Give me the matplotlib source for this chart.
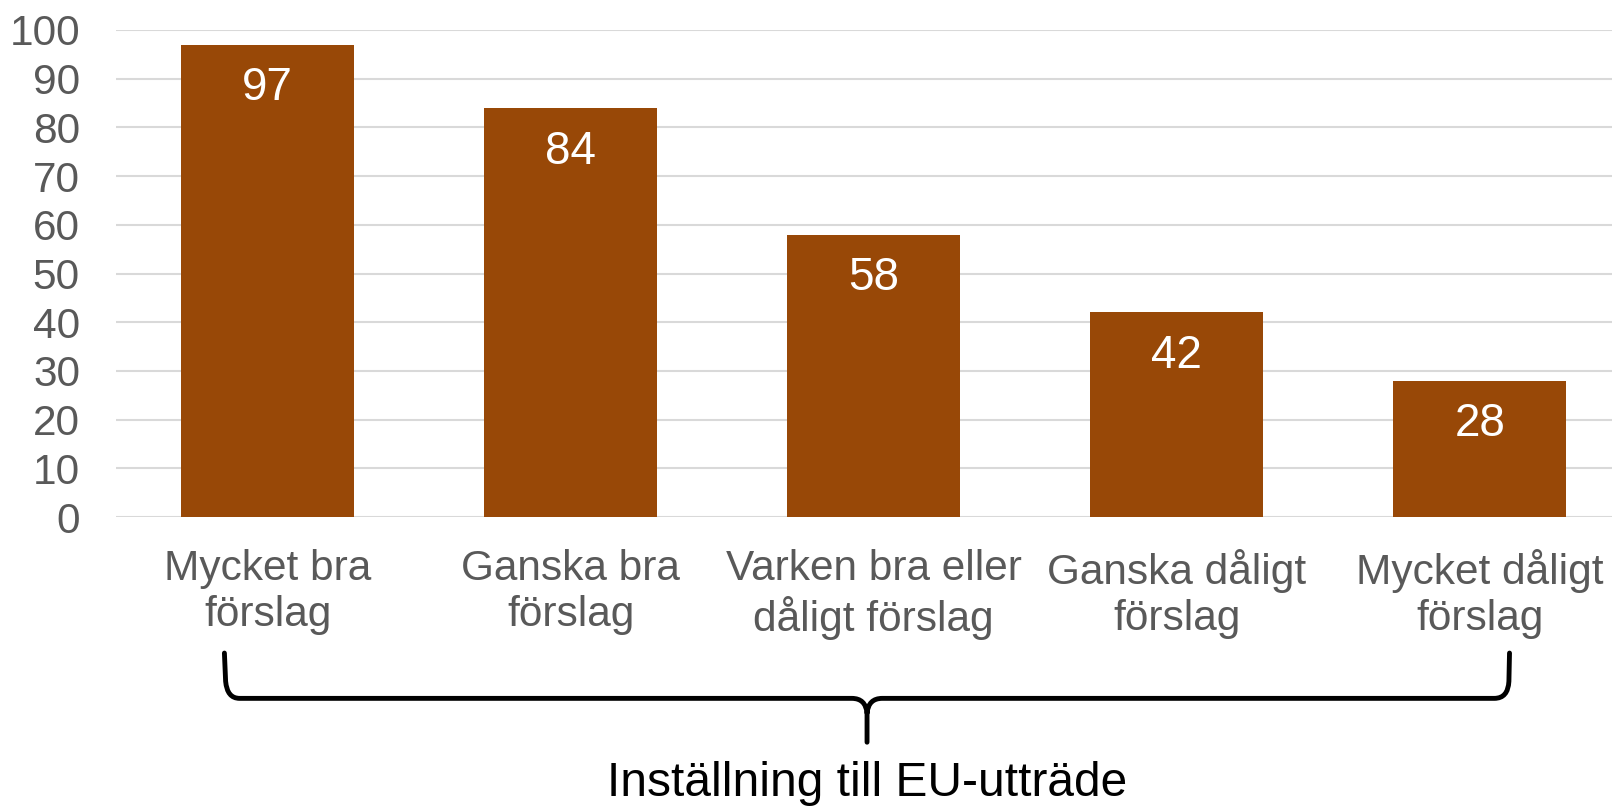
import numpy as np
import matplotlib.pyplot as plt
from matplotlib.path import Path
from matplotlib.patches import PathPatch
import matplotlib.transforms as mtransforms

plt.rcParams['font.family'] = ['Liberation Sans', 'DejaVu Sans']

kategorier = ['Mycket bra\nförslag', 'Ganska bra\nförslag', 'Varken bra eller\ndåligt förslag',
              'Ganska dåligt\nförslag', 'Mycket dåligt\nförslag']
varden = [97, 84, 58, 42, 28]
yticks = list(range(0, 101, 10))
rubrik = 'Inställning till EU-utträde'

fig = plt.figure(figsize=(16.12, 8.08), dpi=100)
ax = fig.add_axes([0.072, 0.360, 0.94, 0.603])

x = np.arange(len(varden))
bars = ax.bar(x, varden, width=0.57, color='#984807', zorder=3)

for xi, v in zip(x, varden):
    ax.annotate(str(v), (xi, v), xytext=(0, -31.5), textcoords='offset points',
                ha='center', va='center', color='white', fontsize=33, zorder=4)

ax.set_xlim(-0.5, 4.5)
ax.set_ylim(0, 100)
ax.set_yticks(yticks)
ax.set_xticks(x)
ax.set_xticklabels(kategorier, fontsize=30.5, color='#595959', linespacing=1.2)
ax.tick_params(axis='y', labelsize=30.5, labelcolor='#595959', length=0, pad=26)
ax.tick_params(axis='x', length=0, pad=23)
ax.grid(axis='y', color='#d9d9d9', linewidth=1.5, zorder=0)
for s in ax.spines.values():
    s.set_visible(False)

# klammer under kategorierna
tr = mtransforms.blended_transform_factory(ax.transData, ax.transAxes)
xl, xr, xm = -0.1425, 4.098, 1.978
yt, yl, yb = -0.279, -0.372, -0.462
verts = [(xl, yt), (xl + 0.004, yl + 0.035), (xl + 0.009, yl), (xl + 0.05, yl),
         (xm - 0.05, yl), (xm - 0.005, yl), (xm, yl - 0.03), (xm, yb),
         (xm, yl - 0.03), (xm + 0.005, yl), (xm + 0.05, yl),
         (xr - 0.05, yl), (xr - 0.005, yl), (xr - 0.002, yl + 0.035), (xr, yt)]
codes = [Path.MOVETO, Path.LINETO, Path.CURVE3, Path.CURVE3,
         Path.LINETO, Path.CURVE3, Path.CURVE3, Path.LINETO,
         Path.MOVETO, Path.CURVE3, Path.CURVE3,
         Path.LINETO, Path.CURVE3, Path.CURVE3, Path.LINETO]
brace = PathPatch(Path(verts, codes), transform=tr, fill=False, edgecolor='black',
                  linewidth=3.5, capstyle='round', joinstyle='round', clip_on=False)
ax.add_patch(brace)

ax.text(xm, -0.546, rubrik, transform=tr, ha='center', va='center', fontsize=34.5, color='black')

fig.savefig('out.png', dpi=100)
